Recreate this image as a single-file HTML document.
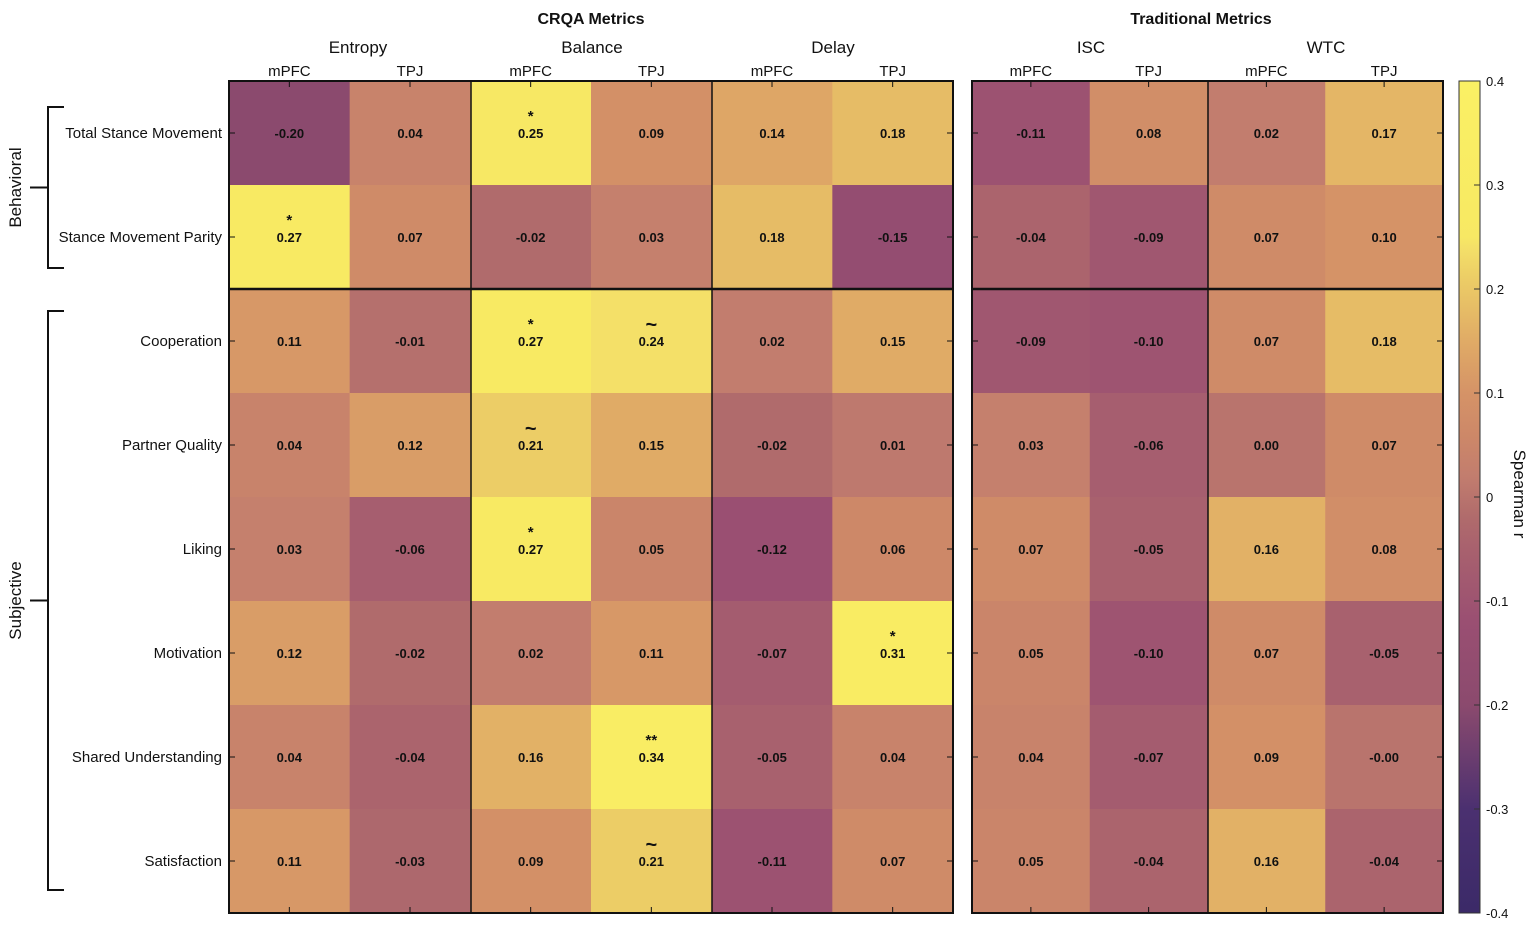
<!DOCTYPE html>
<html><head><meta charset="utf-8"><style>
body{margin:0;background:#fff;}
svg{display:block;font-family:"Liberation Sans",Arial,sans-serif;}
</style></head><body>
<svg id="chart" width="1535" height="926" viewBox="0 0 1535 926"></svg>
<script>
const rowLabels=["Total Stance Movement","Stance Movement Parity","Cooperation","Partner Quality","Liking","Motivation","Shared Understanding","Satisfaction"];
const colLabels=["mPFC","TPJ","mPFC","TPJ","mPFC","TPJ","mPFC","TPJ","mPFC","TPJ"];
const groupLabels=["Entropy","Balance","Delay","ISC","WTC"];
const values=[
[-0.20,0.04,0.25,0.09,0.14,0.18,-0.11,0.08,0.02,0.17],
[0.27,0.07,-0.02,0.03,0.18,-0.15,-0.04,-0.09,0.07,0.10],
[0.11,-0.01,0.27,0.24,0.02,0.15,-0.09,-0.10,0.07,0.18],
[0.04,0.12,0.21,0.15,-0.02,0.01,0.03,-0.06,0.00,0.07],
[0.03,-0.06,0.27,0.05,-0.12,0.06,0.07,-0.05,0.16,0.08],
[0.12,-0.02,0.02,0.11,-0.07,0.31,0.05,-0.10,0.07,-0.05],
[0.04,-0.04,0.16,0.34,-0.05,0.04,0.04,-0.07,0.09,-0.00],
[0.11,-0.03,0.09,0.21,-0.11,0.07,0.05,-0.04,0.16,-0.04]];
const printed=[
["-0.20","0.04","0.25","0.09","0.14","0.18","-0.11","0.08","0.02","0.17"],
["0.27","0.07","-0.02","0.03","0.18","-0.15","-0.04","-0.09","0.07","0.10"],
["0.11","-0.01","0.27","0.24","0.02","0.15","-0.09","-0.10","0.07","0.18"],
["0.04","0.12","0.21","0.15","-0.02","0.01","0.03","-0.06","0.00","0.07"],
["0.03","-0.06","0.27","0.05","-0.12","0.06","0.07","-0.05","0.16","0.08"],
["0.12","-0.02","0.02","0.11","-0.07","0.31","0.05","-0.10","0.07","-0.05"],
["0.04","-0.04","0.16","0.34","-0.05","0.04","0.04","-0.07","0.09","-0.00"],
["0.11","-0.03","0.09","0.21","-0.11","0.07","0.05","-0.04","0.16","-0.04"]];
const sigMarks=[
["","","*","","","","","","",""],
["*","","","","","","","","",""],
["","","*","~","","","","","",""],
["","","~","","","","","","",""],
["","","*","","","","","","",""],
["","","","","","*","","","",""],
["","","","**","","","","","",""],
["","","","~","","","","","",""]];
const cbTicks=[-0.4,-0.3,-0.2,-0.1,0,0.1,0.2,0.3,0.4];
const cbTickLabels=["-0.4","-0.3","-0.2","-0.1","0","0.1","0.2","0.3","0.4"];

const stops=[[-0.4,"#3b2a68"],[-0.3,"#4b3070"],[-0.2,"#8b4a6e"],[-0.12,"#9a4f72"],[-0.05,"#a8616e"],[-0.02,"#b06b6c"],[0.02,"#c27d6e"],[0.06,"#cd8868"],[0.1,"#d59367"],[0.15,"#e0ab66"],[0.21,"#eccd66"],[0.24,"#f4e068"],[0.25,"#f7e864"],[0.27,"#f8ea63"],[0.4,"#faf064"]];
function hex(h){return [1,3,5].map(i=>parseInt(h.substr(i,2),16));}
function color(v){
  v=Math.max(-0.4,Math.min(0.4,v));
  for(let i=0;i<stops.length-1;i++){const a=stops[i],b=stops[i+1];
    if(v<=b[0]){const t=(v-a[0])/(b[0]-a[0]);const ca=hex(a[1]),cb=hex(b[1]);
      return "rgb("+ca.map((c,k)=>Math.round(c+(cb[k]-c)*t)).join(",")+")";}}
  return stops[stops.length-1][1];
}
const svg=document.getElementById('chart');
const NS="http://www.w3.org/2000/svg";
function el(tag,attrs,parent){const e=document.createElementNS(NS,tag);for(const k in attrs)e.setAttribute(k,attrs[k]);(parent||svg).appendChild(e);return e;}
const top0=81,rowH=104;
function xLeft(c){return c<6?229+c*(724/6):972+(c-6)*(471/4);}
function cw(c){return c<6?724/6:471/4;}
function yRow(r){return top0+r*rowH;}
for(let r=0;r<values.length;r++){for(let c=0;c<values[r].length;c++){
  const g=el('g',{});
  
  
  el('rect',{x:xLeft(c),y:yRow(r),width:cw(c)+0.6,height:rowH+0.6,fill:color(values[r][c])},g);
  const cx=xLeft(c)+cw(c)/2,cy=yRow(r)+rowH/2;
  const t=el('text',{x:cx,y:cy+5,'text-anchor':'middle','font-size':13,'font-weight':'bold',fill:'#111'},g);
  t.textContent=printed[r][c];
  if(sigMarks[r][c]){const s=el('text',{x:cx,y:cy-(sigMarks[r][c]==="~"?10:12),'text-anchor':'middle','font-size':sigMarks[r][c]==="~"?20:15,'font-weight':'bold',fill:'#111'},g);s.textContent=sigMarks[r][c];}
}}
function ln(x1,y1,x2,y2,w){el('line',{x1,y1,x2,y2,stroke:'#111','stroke-width':w});}
el('rect',{x:229,y:81,width:724,height:832,fill:'none',stroke:'#111','stroke-width':2});
el('rect',{x:972,y:81,width:471,height:832,fill:'none',stroke:'#111','stroke-width':2});
ln(471,81,471,913,1.5);ln(712,81,712,913,1.5);ln(1208,81,1208,913,1.5);
ln(229,289,953,289,2.5);ln(972,289,1443,289,2.5);
for(let r=0;r<8;r++){const y=yRow(r)+rowH/2;ln(229,y,235,y,1);ln(947,y,953,y,1);ln(972,y,978,y,1);ln(1437,y,1443,y,1);}
for(let c=0;c<10;c++){const x=xLeft(c)+cw(c)/2;ln(x,82,x,87,1);ln(x,907,x,912,1);}
for(let c=0;c<10;c++){const t=el('text',{x:xLeft(c)+cw(c)/2,y:76,'text-anchor':'middle','font-size':15,fill:'#111'});t.textContent=colLabels[c];}
const gx=[358,592,833,1091,1326];
groupLabels.forEach((g,i)=>{const t=el('text',{x:gx[i],y:53,'text-anchor':'middle','font-size':17,fill:'#111'});t.textContent=g;});
let t1=el('text',{x:591,y:24,'text-anchor':'middle','font-size':16,'font-weight':'bold',fill:'#111'});t1.textContent="CRQA Metrics";

let t2=el('text',{x:1201,y:24,'text-anchor':'middle','font-size':16,'font-weight':'bold',fill:'#111'});t2.textContent="Traditional Metrics";

rowLabels.forEach((l,r)=>{const t=el('text',{x:222,y:yRow(r)+rowH/2+5,'text-anchor':'end','font-size':15,fill:'#111'});t.textContent=l;});
function bracket(y1,y2,label,name){
  const g=el('g',{});
  el('path',{d:`M64 ${y1} H48 V${y2} H64 M48 ${(y1+y2)/2} H30`,fill:'none',stroke:'#111','stroke-width':2},g);
  const t=el('text',{x:21,y:(y1+y2)/2,'text-anchor':'middle','font-size':17,fill:'#111',transform:`rotate(-90 21 ${(y1+y2)/2})`},g);t.textContent=label;
}
bracket(107,268,"Behavioral","behavioral-bracket");
bracket(311,890,"Subjective","subjective-bracket");
const defs=el('defs',{});
const grad=el('linearGradient',{id:'cb',x1:0,y1:1,x2:0,y2:0},defs);
stops.forEach(s=>el('stop',{offset:(s[0]+0.4)/0.8,'stop-color':s[1]},grad));
const cbg=el('g',{});
el('rect',{x:1459,y:81,width:21,height:832,fill:'url(#cb)',stroke:'#333','stroke-width':1},cbg);
function yCb(v){return 913-(v+0.4)/0.8*832;}
cbTicks.forEach((v,i)=>{const y=yCb(v);
  if(i>0&&i<cbTicks.length-1)el('line',{x1:1474,y1:y,x2:1480,y2:y,stroke:'#333','stroke-width':1},cbg);
  const t=el('text',{x:1486,y:y+5,'font-size':13,fill:'#111'},cbg);t.textContent=cbTickLabels[i];});
const st=el('text',{x:1514,y:494,'text-anchor':'middle','font-size':17,fill:'#111',transform:'rotate(90 1514 494)'},cbg);st.textContent="Spearman r";
</script>
</body></html>
